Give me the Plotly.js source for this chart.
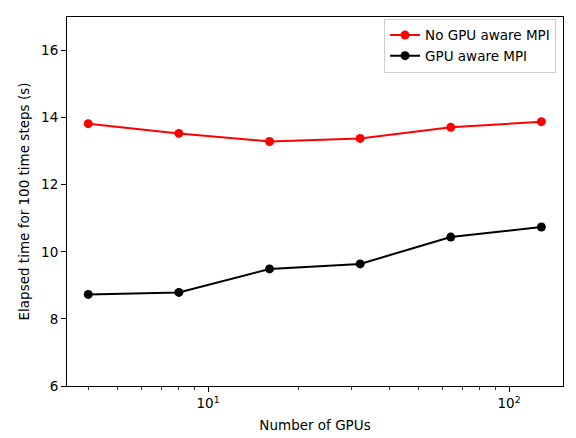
<!DOCTYPE html>
<html>
<head>
<meta charset="utf-8">
<script src="https://cdn.plot.ly/plotly-3.0.1.min.js"></script>
<style>html,body{margin:0;padding:0;background:#fff;}#chart{width:576px;height:438px;}</style>
</head>
<body>
<div id="chart"></div>
<script>
const gpus = [4, 8, 16, 32, 64, 128];
const noGpuAware = [13.82, 13.53, 13.29, 13.38, 13.71, 13.88];
const gpuAware = [8.73, 8.79, 9.49, 9.64, 10.44, 10.74];
const xTickVals = [10, 100];
const xTickText = ['10<sup>1</sup>', '10<sup>2</sup>'];
const xMinorVals = [4, 5, 6, 7, 8, 9, 20, 30, 40, 50, 60, 70, 80, 90, 200];
const yTickVals = [6, 8, 10, 12, 14, 16];

const font = {family: 'DejaVu Sans, sans-serif', size: 13.5, color: '#000'};
const legendFont = {family: 'DejaVu Sans, sans-serif', size: 13.5, color: '#000'};

const traces = [
  {x: gpus, y: noGpuAware, name: 'No GPU aware MPI', type: 'scatter', mode: 'lines+markers',
   line: {color: '#ff0000', width: 2}, marker: {color: '#ff0000', size: 9}},
  {x: gpus, y: gpuAware, name: 'GPU aware MPI', type: 'scatter', mode: 'lines+markers',
   line: {color: '#000000', width: 2}, marker: {color: '#000000', size: 9}}
];

const layout = {
  width: 576, height: 438,
  margin: {l: 67, r: 13, t: 17, b: 52},
  paper_bgcolor: '#fff', plot_bgcolor: '#fff',
  font: font,
  showlegend: true,
  legend: {x: 0.986, y: 0.995, xanchor: 'right', yanchor: 'top',
    bgcolor: 'rgba(255,255,255,0.8)', bordercolor: '#cccccc', borderwidth: 1,
    font: legendFont, tracegroupgap: 0},
  xaxis: {
    type: 'log', range: [Math.log10(3.4), Math.log10(151)],
    tickmode: 'array', tickvals: xTickVals, ticktext: xTickText,
    ticks: 'outside', ticklen: 5, tickwidth: 1, tickcolor: '#000',
    minor: {tickmode: 'array', tickvals: xMinorVals, ticks: 'outside', ticklen: 3, tickwidth: 0.8, tickcolor: '#000', showgrid: false},
    showline: true, linecolor: '#000', linewidth: 1, mirror: true,
    showgrid: false, zeroline: false,
    title: {text: 'Number of GPUs', font: font, standoff: 10},
    tickfont: font
  },
  yaxis: {
    range: [6, 17],
    tickmode: 'array', tickvals: yTickVals,
    ticks: 'outside', ticklen: 5, tickwidth: 1, tickcolor: '#000',
    showline: true, linecolor: '#000', linewidth: 1, mirror: true,
    showgrid: false, zeroline: false,
    title: {text: 'Elapsed time for 100 time steps (s)', font: font, standoff: 8},
    tickfont: font
  }
};

Plotly.newPlot('chart', traces, layout, {displayModeBar: false, staticPlot: true});
</script>
</body>
</html>
